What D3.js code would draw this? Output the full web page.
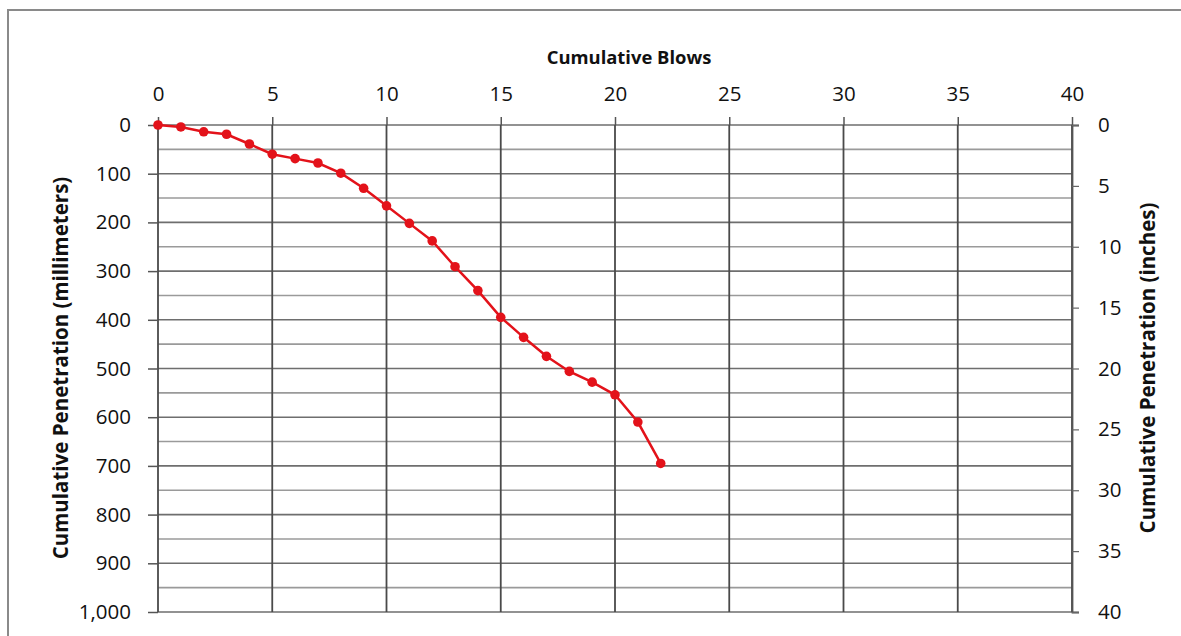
<!DOCTYPE html>
<html>
<head>
<meta charset="utf-8">
<script src="https://cdn.jsdelivr.net/npm/d3@7"></script>
<style>
  html, body { margin: 0; padding: 0; background: #fff; }
  svg { display: block; }
  text { font-family: "Open Sans", "Noto Sans", sans-serif; fill: #111; }
</style>
</head>
<body>
<svg id="chart" width="1181" height="636"></svg>
<script>
// Dynamic cone penetration record: cumulative blows vs. cumulative penetration
const blows = [0, 1, 2, 3, 4, 5, 6, 7, 8, 9, 10, 11, 12, 13, 14, 15, 16, 17, 18, 19, 20, 21, 22];
const penetrationMm = [0, 4, 14, 19, 39, 60, 69, 78, 99, 130, 166, 202, 238, 291, 340, 395, 436, 475, 506, 528, 554, 610, 695];

const blowTicks = [0, 5, 10, 15, 20, 25, 30, 35, 40];
const mmTicks = [0, 100, 200, 300, 400, 500, 600, 700, 800, 900, 1000];
const inchTicks = [0, 5, 10, 15, 20, 25, 30, 35, 40];
const mmGrid = d3.range(0, 1001, 50);

const svg = d3.select("#chart");
const plot = { left: 158, right: 1072, top: 125, bottom: 612 };

const x = d3.scaleLinear().domain([0, 40]).range([plot.left, plot.right]);
const y = d3.scaleLinear().domain([0, 1000]).range([plot.top, plot.bottom]);
const yIn = d3.scaleLinear().domain([0, 40]).range([plot.top, plot.bottom]);

// outer frame
svg.append("path")
  .attr("d", "M8,636 L8,10 L1181,10")
  .attr("fill", "none").attr("stroke", "#8a8a8a").attr("stroke-width", 2);

// horizontal gridlines every 50 mm
svg.append("g").selectAll("line").data(mmGrid).join("line")
  .attr("x1", plot.left).attr("x2", plot.right)
  .attr("y1", d => y(d)).attr("y2", d => y(d))
  .attr("stroke", d => d % 100 === 0 ? "#6e6e6e" : "#9a9a9a")
  .attr("stroke-width", 1.6);

// vertical gridlines every 5 blows
svg.append("g").selectAll("line").data(blowTicks).join("line")
  .attr("x1", d => x(d)).attr("x2", d => x(d))
  .attr("y1", plot.top).attr("y2", plot.bottom)
  .attr("stroke", "#4a4a4a").attr("stroke-width", 1.8);

// top axis (blows)
const xAxis = d3.axisTop(x).tickValues(blowTicks).tickSize(8).tickPadding(16).tickFormat(d3.format("d"));
const gx = svg.append("g").attr("transform", `translate(0,${plot.top})`).call(xAxis);
gx.select(".domain").remove();
gx.selectAll(".tick line").attr("stroke", "#555").attr("stroke-width", 1.5);
gx.selectAll(".tick text").attr("font-size", 20.5).style("fill", "#111");

// left axis (mm)
const yAxis = d3.axisLeft(y).tickValues(mmTicks).tickSize(10).tickPadding(17).tickFormat(d3.format(","));
const gy = svg.append("g").attr("transform", `translate(${plot.left},0)`).call(yAxis);
gy.select(".domain").remove();
gy.selectAll(".tick line").attr("stroke", "#555").attr("stroke-width", 1.5);
gy.selectAll(".tick text").attr("font-size", 20.5).style("fill", "#111");

// right axis (inches)
const yAxisR = d3.axisRight(yIn).tickValues(inchTicks).tickSize(7).tickPadding(19).tickFormat(d3.format("d"));
const gr = svg.append("g").attr("transform", `translate(${plot.right},0)`).call(yAxisR);
gr.select(".domain").attr("stroke", "#555").attr("stroke-width", 1.8);
gr.selectAll(".tick line").attr("stroke", "#666").attr("stroke-width", 1.2);
gr.selectAll(".tick text").attr("font-size", 20.5).style("fill", "#111");

// axis titles
svg.append("text").attr("x", 629).attr("y", 64).attr("text-anchor", "middle")
  .attr("font-size", 18.4).attr("font-weight", "bold").text("Cumulative Blows");
svg.append("text").attr("transform", "translate(68,368) rotate(-90)").attr("text-anchor", "middle")
  .attr("font-size", 20.5).attr("font-weight", "bold").text("Cumulative Penetration (millimeters)");
svg.append("text").attr("transform", "translate(1155,368) rotate(-90)").attr("text-anchor", "middle")
  .attr("font-size", 20.5).attr("font-weight", "bold").text("Cumulative Penetration (inches)");

// series
const pts = blows.map((b, i) => [b, penetrationMm[i]]);
svg.append("path").datum(pts)
  .attr("d", d3.line().x(d => x(d[0])).y(d => y(d[1])))
  .attr("fill", "none").attr("stroke", "#e3121a").attr("stroke-width", 2.5);
svg.append("g").selectAll("circle").data(pts).join("circle")
  .attr("cx", d => x(d[0])).attr("cy", d => y(d[1])).attr("r", 4.8)
  .attr("fill", "#e3121a");
</script>
</body>
</html>
